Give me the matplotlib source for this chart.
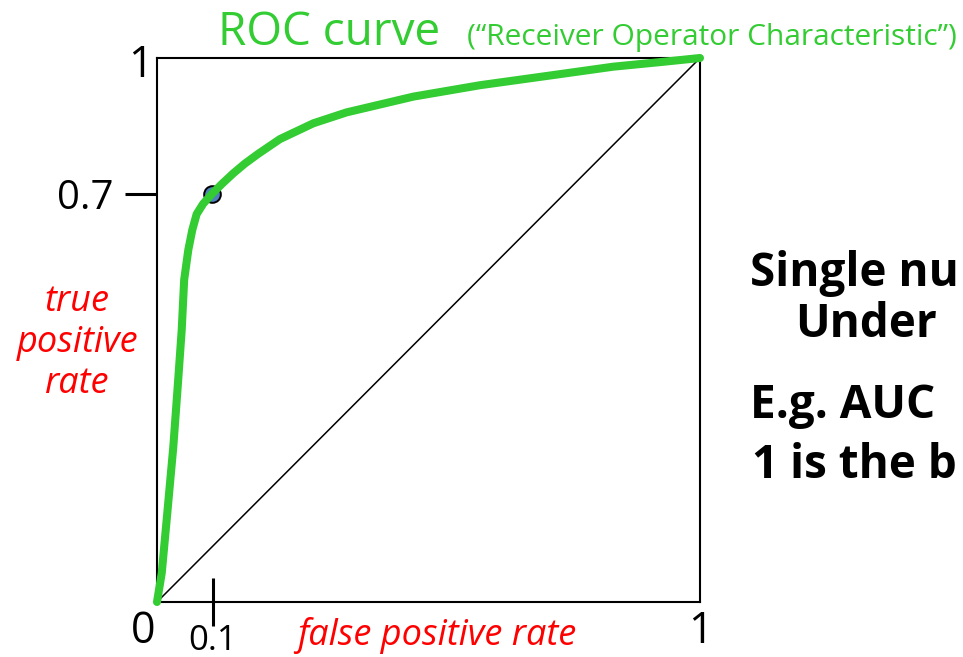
import matplotlib
matplotlib.use("Agg")
import matplotlib.pyplot as plt

W, H = 963, 657

# ROC curve (false positive rate, true positive rate)
fpr = [0.0, 0.0087, 0.019, 0.030, 0.039, 0.0455, 0.050, 0.0576, 0.065,
       0.073, 0.085, 0.101, 0.119, 0.1405, 0.162, 0.1866, 0.2265, 0.288,
       0.349, 0.472, 0.595, 0.718, 0.840, 0.932, 1.0]
tpr = [0.0, 0.053, 0.164, 0.285, 0.408, 0.500, 0.592, 0.647, 0.684,
       0.713, 0.732, 0.750, 0.768, 0.788, 0.806, 0.824, 0.851, 0.880,
       0.900, 0.929, 0.950, 0.967, 0.984, 0.993, 1.0]

# highlighted operating point
point_x = [0.101]
point_y = [0.75]

diag_x = [0, 1]
diag_y = [0, 1]

xtick_pos = [0.103]
xtick_labels = ["0.1"]
ytick_pos = [0.75]
ytick_labels = ["0.7"]

notes = ["Single nu", "Under", "E.g. AUC", "1 is the b"]

GREEN = "#33CC33"
FONT = ["Open Sans", "DejaVu Sans"]

plt.rcParams["font.family"] = FONT

fig = plt.figure(figsize=(W / 100, H / 100), dpi=100)
ax = fig.add_axes([157 / W, 1 - 602 / H, 543 / W, 544 / H])

ax.plot(diag_x, diag_y, color="black", lw=1.1)
ax.plot(point_x, point_y, "o", ms=12, mfc="#4F81BD", mec="black", mew=1.4,
        zorder=2, clip_on=False)
ax.plot(fpr, tpr, color=GREEN, lw=5.8, solid_capstyle="round",
        solid_joinstyle="round", clip_on=False, zorder=3)

ax.set_xlim(0, 1)
ax.set_ylim(0, 1)
for s in ax.spines.values():
    s.set_linewidth(1.5)

ax.set_xticks(xtick_pos, xtick_labels)
ax.set_yticks(ytick_pos, ytick_labels)
ax.set_yticks(ytick_pos, minor=True)
ax.tick_params(axis="x", direction="inout", length=34, width=2.2, pad=-1,
               labelsize=25)
ax.tick_params(axis="y", which="major", direction="out", length=23,
               width=2.2, pad=8, labelsize=29)
ax.tick_params(axis="y", which="minor", direction="in", length=11.5,
               width=2.2)

# corner labels
ax.text(-0.026, -0.055, "0", transform=ax.transAxes, ha="center",
        va="center", fontsize=31)
ax.text(1.0, -0.055, "1", transform=ax.transAxes, ha="center",
        va="center", fontsize=31)
ax.text(-0.031, 0.985, "1", transform=ax.transAxes, ha="center",
        va="center", fontsize=31)

ax.text(-0.147, 0.476, "true\npositive\nrate", transform=ax.transAxes,
        ha="center", va="center", fontsize=26, style="italic", color="red",
        linespacing=1.2)
ax.text(0.516, -0.0625, "false positive rate", transform=ax.transAxes,
        ha="center", va="center", fontsize=26, style="italic", color="red")

# title
fig.text(218 / W, 1 - 45 / H, "ROC curve", color=GREEN, fontsize=33,
         va="baseline", ha="left")
fig.text(467 / W, 1 - 45 / H, "(\u201cReceiver Operator Characteristic\u201d)",
         color=GREEN, fontsize=21.5, va="baseline", ha="left")

# side notes, as much of them as the slide shows
note_x = [750, 795, 750, 752]
note_y = [286, 337, 418, 478]
for txt, nx, ny in zip(notes, note_x, note_y):
    fig.text(nx / W, 1 - ny / H, txt, fontsize=33, weight="bold",
             va="baseline", ha="left")

fig.savefig("out.png", dpi=100)
